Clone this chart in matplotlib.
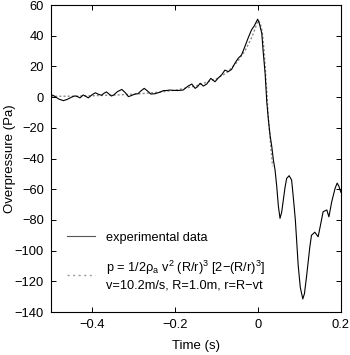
import matplotlib
matplotlib.use("Agg")
import matplotlib.pyplot as plt
from matplotlib.lines import Line2D

plt.rcParams["font.family"] = ["Liberation Sans", "DejaVu Sans"]
plt.rcParams["mathtext.fontset"] = "custom"
plt.rcParams["mathtext.rm"] = "Liberation Sans"
plt.rcParams["mathtext.it"] = "Liberation Sans"
plt.rcParams["mathtext.default"] = "regular"

# ── Data ─────────────────────────────────────────────────────────────────────
exp_t = [-0.500, -0.494, -0.490, -0.481, -0.470, -0.461, -0.450, -0.442, -0.435,
         -0.430, -0.422, -0.416, -0.410, -0.401, -0.393, -0.385, -0.378, -0.372,
         -0.366, -0.360, -0.354, -0.348, -0.340, -0.329, -0.321, -0.313, -0.306,
         -0.297, -0.290, -0.283, -0.275, -0.267, -0.259, -0.249, -0.237, -0.229,
         -0.221, -0.213, -0.205, -0.194, -0.181, -0.169, -0.160, -0.152, -0.146,
         -0.140, -0.132, -0.124, -0.114, -0.104, -0.096, -0.088, -0.080, -0.072,
         -0.064, -0.056, -0.048, -0.040, -0.032, -0.024, -0.016, -0.009, -0.001,
         0.003, 0.009, 0.012, 0.017, 0.021, 0.025, 0.029, 0.033, 0.037, 0.041,
         0.045, 0.049, 0.053, 0.057, 0.061, 0.065, 0.069, 0.075, 0.081, 0.085,
         0.090, 0.097, 0.102, 0.108, 0.112, 0.117, 0.125, 0.129, 0.133, 0.137,
         0.145, 0.151, 0.157, 0.166, 0.171, 0.178, 0.186, 0.191, 0.195, 0.200]
exp_p = [1.5, 1.0, 0.3, -1.3, -2.3, -1.5, 0.0, 0.8, 0.2,
         -0.5, 1.4, 0.5, -0.5, 1.5, 2.8, 1.8, 1.2, 2.5,
         3.4, 2.0, 0.7, 1.5, 3.5, 5.0, 3.0, 0.3, 1.0,
         2.0, 2.2, 4.0, 5.7, 4.0, 2.0, 2.2, 3.2, 4.2,
         4.3, 4.6, 4.4, 4.3, 4.6, 7.2, 8.5, 5.7, 6.8,
         9.0, 7.2, 8.5, 12.2, 10.0, 12.5, 14.5, 17.6, 16.6,
         18.0, 22.0, 25.3, 27.4, 32.8, 38.5, 43.7, 46.5, 50.8,
         48.0, 41.5, 30.7, 15.5, -3.0, -15.0, -25.0, -32.0, -41.0, -47.5,
         -58.0, -71.0, -79.0, -75.0, -67.0, -59.0, -53.0, -51.2, -54.0, -65.0,
         -80.0, -110.0, -124.0, -131.5, -128.0, -117.0, -97.5, -90.0, -89.0, -88.0,
         -91.0, -83.0, -74.7, -73.5, -78.0, -68.0, -59.4, -56.0, -58.0, -62.0]

model_t = [-0.50, -0.45, -0.40, -0.35, -0.30, -0.25, -0.20, -0.15, -0.10,
           -0.075, -0.05, -0.03, -0.015, 0.0, 0.005, 0.010, 0.015, 0.020,
           0.025, 0.030, 0.035]
model_p = [0.5, 0.6, 0.9, 1.3, 1.9, 2.9, 4.5, 7.3, 12.0,
           16.0, 23.0, 31.0, 39.0, 49.9, 48.5, 42.7, 29.0, 8.0,
           -14.0, -30.0, -45.0]

x_ticks = [-0.4, -0.2, 0, 0.2]
x_ticklabels = ["\u22120.4", "\u22120.2", "0", "0.2"]
y_ticks = list(range(-140, 61, 20))

# ── Figure ───────────────────────────────────────────────────────────────────
fig = plt.figure(figsize=(3.5, 3.55), dpi=100, facecolor="white")
ax = fig.add_axes([0.1457, 0.1211, 0.8283, 0.8648])

ax.plot(model_t, model_p, color="#8a8a8a", lw=1.0, ls=(0, (1.5, 1.5)), zorder=2)
ax.plot(exp_t, exp_p, color="black", lw=0.8, zorder=3)

ax.set_xlim(-0.5, 0.2)
ax.set_ylim(-140, 60)
ax.set_xticks(x_ticks)
ax.set_xticklabels(x_ticklabels)
ax.set_yticks(y_ticks)
ax.set_yticklabels([str(v).replace("-", "\u2212") for v in y_ticks])
ax.tick_params(direction="in", length=3.5, width=0.7, top=True, right=True,
               labelsize=9.3, pad=5)
for sp in ax.spines.values():
    sp.set_linewidth(0.8)

ax.set_xlabel("Time (s)", fontsize=9.5)
ax.xaxis.set_label_coords(0.5, -0.092)
ax.set_ylabel("Overpressure (Pa)", fontsize=9.5)
ax.yaxis.set_label_coords(-0.121, 0.5)

handles = [
    Line2D([], [], color="#555555", lw=0.8),
    Line2D([], [], color="#9a9a9a", lw=1.0, ls=(0, (1.5, 2.5))),
]
labels = [
    "experimental data",
    "p = 1/2\u03c1$_a$ v$^2$ (R/r)$^3$ [2\u2212(R/r)$^3$]\n"
    "v=10.2m/s, R=1.0m, r=R\u2212vt",
]
ax.legend(handles, labels, loc="lower left", bbox_to_anchor=(0.015, 0.03),
          frameon=False, fontsize=9.2, handlelength=2.2, handletextpad=0.85,
          labelspacing=1.2)

fig.savefig("out.png", dpi=100, facecolor="white")
